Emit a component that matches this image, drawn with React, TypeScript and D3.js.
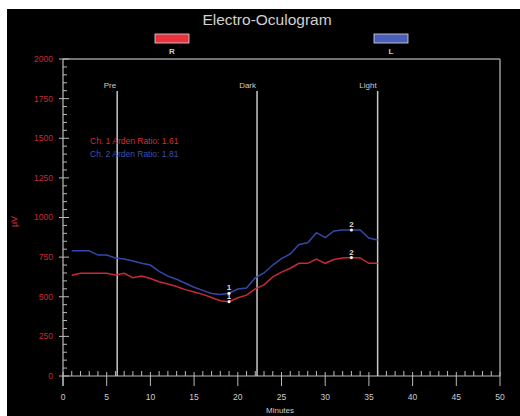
import React, { useEffect, useRef } from 'react';
import * as d3 from 'd3';

// minutes sampled once per minute
const minutes = d3.range(1, 37);
const rightEye = [635, 648, 648, 648, 648, 637, 648, 620, 631, 615, 595, 580, 565, 545, 530, 515, 495, 475, 469, 494, 510, 550, 575, 625, 655, 680, 711, 711, 738, 711, 735, 745, 747, 745, 711, 711];
const leftEye = [790, 790, 790, 763, 763, 745, 738, 725, 711, 700, 660, 630, 610, 585, 560, 540, 520, 515, 522, 549, 555, 620, 650, 700, 740, 770, 830, 841, 904, 873, 915, 921, 921, 921, 870, 858];

const events = [
  { label: 'Pre', t: 6.2 },
  { label: 'Dark', t: 22.2 },
  { label: 'Light', t: 36 },
];
const troughMin = 19;
const peakMin = 33;
const ratios = [
  { text: 'Ch. 1 Arden Ratio: 1.61', color: '#d42a38' },
  { text: 'Ch. 2 Arden Ratio: 1.81', color: '#3c50b0' },
];
const xTickLabels = d3.range(0, 51, 5);
const yTickLabels = d3.range(0, 2001, 250);

const RED = '#c8283a';
const BLUE = '#3448a8';

const App: React.FC = () => {
  const ref = useRef<SVGSVGElement | null>(null);

  useEffect(() => {
    const svg = d3.select(ref.current);
    svg.selectAll('*').remove();

    const x = d3.scaleLinear().domain([0, 50]).range([63, 500]);
    const y = d3.scaleLinear().domain([0, 2000]).range([376, 59]);
    const font = 'Liberation Sans, Arial, sans-serif';

    svg.append('rect').attr('x', 7).attr('y', 9).attr('width', 513).attr('height', 407).attr('fill', '#000');

    svg.append('text')
      .attr('x', 267).attr('y', 25)
      .attr('text-anchor', 'middle')
      .attr('font-family', font).attr('font-size', 15.5)
      .attr('fill', '#d0d0d0')
      .text('Electro-Oculogram');

    // legend
    const legend = [
      { name: 'R', cx: 172, fill: '#e8323e' },
      { name: 'L', cx: 391, fill: '#4a60b8' },
    ];
    legend.forEach(l => {
      svg.append('rect')
        .attr('x', l.cx - 17).attr('y', 34).attr('width', 34).attr('height', 9)
        .attr('fill', l.fill).attr('stroke', '#ddd').attr('stroke-width', 0.8);
      svg.append('text')
        .attr('x', l.cx).attr('y', 54)
        .attr('text-anchor', 'middle')
        .attr('font-family', font).attr('font-size', 8).attr('font-weight', 'bold')
        .attr('fill', '#ccc')
        .text(l.name);
    });

    // frame
    svg.append('line').attr('x1', 63).attr('x2', 500).attr('y1', 59).attr('y2', 59)
      .attr('stroke', '#999').attr('stroke-width', 1.5);
    svg.append('line').attr('x1', 500).attr('x2', 500).attr('y1', 59).attr('y2', 376)
      .attr('stroke', '#999').attr('stroke-width', 1.5);

    // y axis
    svg.append('line').attr('x1', 63).attr('x2', 63).attr('y1', 59).attr('y2', 386)
      .attr('stroke', '#bbb').attr('stroke-width', 1.2);
    svg.append('g').selectAll('line')
      .data(d3.range(0, 2001, 50))
      .enter().append('line')
      .attr('x1', (d: number) => (d % 250 === 0 ? 59 : 63))
      .attr('x2', (d: number) => (d % 250 === 0 ? 69 : 67))
      .attr('y1', (d: number) => y(d)).attr('y2', (d: number) => y(d))
      .attr('stroke', '#bbb').attr('stroke-width', 1);
    svg.append('g').selectAll('text')
      .data(yTickLabels)
      .enter().append('text')
      .attr('x', 53).attr('y', (d: number) => y(d))
      .attr('dy', '0.35em')
      .attr('text-anchor', 'end')
      .attr('font-family', font).attr('font-size', 8.5)
      .attr('fill', RED)
      .text((d: number) => d);
    svg.append('text')
      .attr('transform', `translate(17,${y(1000) + 4}) rotate(-90)`)
      .attr('text-anchor', 'middle')
      .attr('font-family', font).attr('font-size', 9)
      .attr('fill', RED)
      .text('µV');

    // x axis
    svg.append('line').attr('x1', 63).attr('x2', 500).attr('y1', 376).attr('y2', 376)
      .attr('stroke', '#bbb').attr('stroke-width', 1.2);
    svg.append('g').selectAll('line')
      .data(d3.range(0, 51, 1))
      .enter().append('line')
      .attr('x1', (d: number) => x(d)).attr('x2', (d: number) => x(d))
      .attr('y1', (d: number) => (d % 5 === 0 ? 372 : 371))
      .attr('y2', (d: number) => (d % 5 === 0 ? 386 : 376))
      .attr('stroke', '#bbb').attr('stroke-width', 1);
    svg.append('g').selectAll('text')
      .data(xTickLabels)
      .enter().append('text')
      .attr('x', (d: number) => x(d)).attr('y', 400)
      .attr('text-anchor', 'middle')
      .attr('font-family', font).attr('font-size', 8.5)
      .attr('fill', '#ccc')
      .text((d: number) => d);
    svg.append('text')
      .attr('x', 280).attr('y', 413)
      .attr('text-anchor', 'middle')
      .attr('font-family', font).attr('font-size', 8)
      .attr('fill', '#ccc')
      .text('Minutes');

    // event markers
    events.forEach(e => {
      svg.append('line')
        .attr('x1', x(e.t)).attr('x2', x(e.t)).attr('y1', 91).attr('y2', 376)
        .attr('stroke', '#c8c8c8').attr('stroke-width', 1.5);
      svg.append('text')
        .attr('x', x(e.t) - 1).attr('y', 88)
        .attr('text-anchor', 'end')
        .attr('font-family', font).attr('font-size', 8)
        .attr('fill', '#ccc')
        .text(e.label);
    });

    // ratio text
    ratios.forEach((r, i) => {
      svg.append('text')
        .attr('x', 90).attr('y', 144 + i * 13)
        .attr('font-family', font).attr('font-size', 8.5)
        .attr('fill', r.color)
        .text(r.text);
    });

    const line = d3.line<number>()
      .x((_d, i) => x(minutes[i]))
      .y(d => y(d));

    [{ vals: rightEye, color: RED }, { vals: leftEye, color: BLUE }].forEach(s => {
      svg.append('path')
        .attr('d', line(s.vals) as string)
        .attr('fill', 'none')
        .attr('stroke', s.color).attr('stroke-width', 1.5);

      [{ m: troughMin, label: '1' }, { m: peakMin, label: '2' }].forEach(p => {
        const v = s.vals[minutes.indexOf(p.m)];
        svg.append('circle')
          .attr('cx', x(p.m)).attr('cy', y(v)).attr('r', 1.6)
          .attr('fill', '#eee');
        svg.append('text')
          .attr('x', x(p.m)).attr('y', y(v) - 3)
          .attr('text-anchor', 'middle')
          .attr('font-family', font).attr('font-size', 8).attr('font-weight', 'bold')
          .attr('fill', '#ddd')
          .text(p.label);
      });
    });
  }, []);

  return (
    <svg
      ref={ref}
      width={520}
      height={416}
      style={{ position: 'absolute', left: 0, top: 0, background: '#fff' }}
    />
  );
};

export default App;
